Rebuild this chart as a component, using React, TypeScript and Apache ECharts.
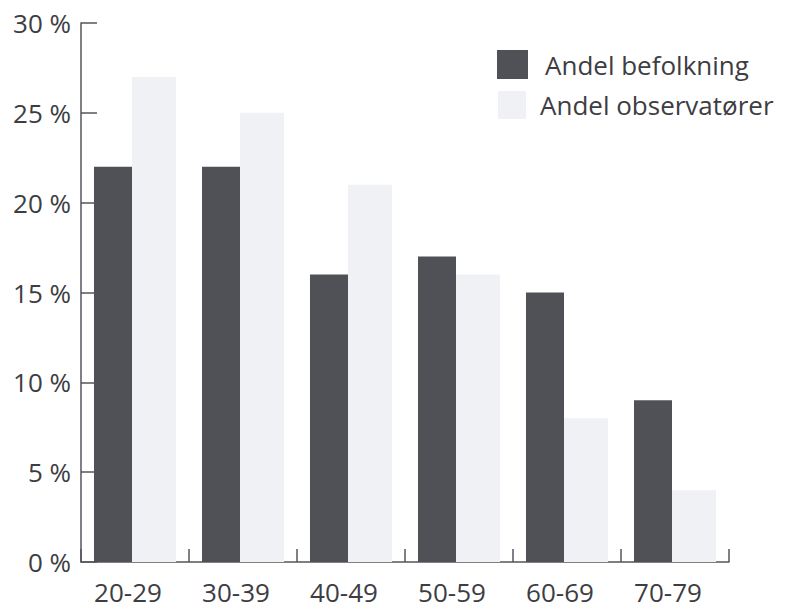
import React, { useEffect, useRef } from "react";
import * as echarts from "echarts";

const categories = ["20-29", "30-39", "40-49", "50-59", "60-69", "70-79"];
const befolkning = [22, 22, 16, 17, 15, 9];
const observatorer = [27, 25, 21, 16, 8, 4];
const yTicks = { min: 0, max: 30, interval: 5 };

const FONT = "'Open Sans', 'Noto Sans', sans-serif";
const TEXT = "#3d3d42";
const AXIS = "#55555b";
const DARK = "#505057";
const LIGHT = "#eff1f4";

export default function App() {
  const ref = useRef<HTMLDivElement>(null);
  useEffect(() => {
    if (!ref.current) return;
    const chart = echarts.init(ref.current, null, { renderer: "svg" });
    chart.setOption({
      animation: false,
      backgroundColor: "#ffffff",
      grid: { left: 81, right: 56, top: 23, bottom: 48, containLabel: false },
      legend: [
        {
          data: ["Andel befolkning"],
          left: 497,
          top: 50,
          padding: 0,
          icon: "rect",
          itemWidth: 31,
          itemHeight: 29,
          selectedMode: false,
          textStyle: { fontSize: 26, fontFamily: FONT, color: TEXT, padding: [0, 0, 0, 12] },
        },
        {
          data: ["Andel observatører"],
          left: 498,
          top: 91,
          padding: 0,
          icon: "rect",
          itemWidth: 28,
          itemHeight: 28,
          selectedMode: false,
          textStyle: { fontSize: 26, fontFamily: FONT, color: TEXT, padding: [0, 0, 0, 9] },
        },
      ],
      xAxis: {
        type: "category",
        data: categories,
        boundaryGap: true,
        axisLine: { show: true, lineStyle: { color: AXIS, width: 1.5 } },
        axisTick: { show: true, inside: true, length: 13, alignWithLabel: false, lineStyle: { color: AXIS, width: 1.5 } },
        axisLabel: {
          fontSize: 26,
          lineHeight: 24,
          fontFamily: FONT,
          color: TEXT,
          margin: 18,
          padding: [0, 14, 0, 0],
        },
        splitLine: { show: false },
      },
      yAxis: {
        type: "value",
        min: yTicks.min,
        max: yTicks.max,
        interval: yTicks.interval,
        axisLine: { show: true, lineStyle: { color: AXIS, width: 1.5 } },
        axisTick: { show: true, inside: true, length: 16, lineStyle: { color: AXIS, width: 1.5 } },
        axisLabel: {
          fontSize: 26,
          fontFamily: FONT,
          color: TEXT,
          margin: 10,
          formatter: (v: number) => `${v} %`,
        },
        splitLine: { show: false },
      },
      series: [
        {
          name: "Andel befolkning",
          type: "bar",
          data: befolkning,
          barWidth: 38,
          barGap: "0%",
          itemStyle: { color: DARK },
        },
        {
          name: "Andel observatører",
          type: "bar",
          data: observatorer,
          barWidth: 44,
          barGap: "0%",
          itemStyle: { color: LIGHT },
        },
      ],
    });
    return () => chart.dispose();
  }, []);
  return (
    <div
      ref={ref}
      style={{ position: "absolute", left: 0, top: 0, width: 785, height: 610, background: "#fff" }}
    />
  );
}
